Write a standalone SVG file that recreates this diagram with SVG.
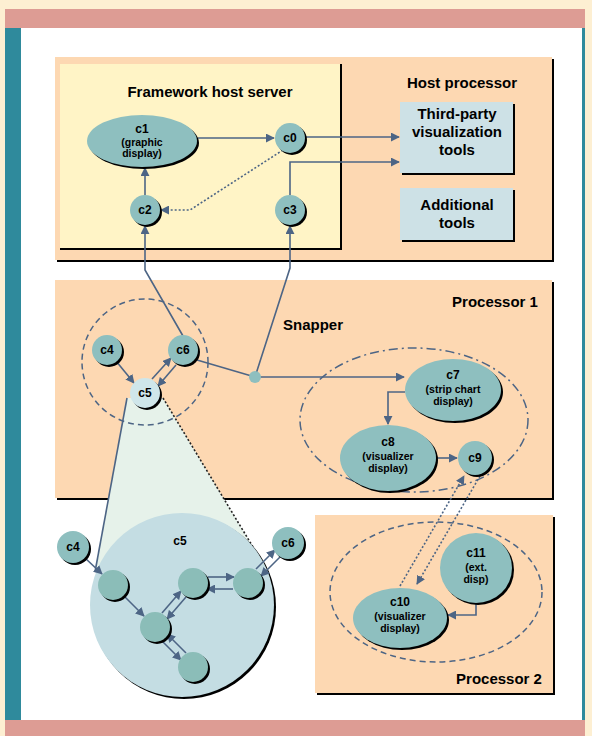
<svg xmlns="http://www.w3.org/2000/svg" width="592" height="736" viewBox="0 0 592 736">
<style>
.t{font-family:"Liberation Sans",Arial,sans-serif;font-weight:bold;fill:#000;text-anchor:middle}
.title{font-size:15px}
.nl{font-size:12px}
.il{font-size:10.5px}
.sh{fill:#000}
.node{fill:#8ebfbf}
.box{fill:#cde1e6}
.c{fill:none;stroke:#4d6585;stroke-width:1.6}
.dot{stroke-dasharray:2 2}
.dash{fill:none;stroke:#4d6585;stroke-width:1.5;stroke-dasharray:6 4}
.dashdot{fill:none;stroke:#4d6585;stroke-width:1.5;stroke-dasharray:9 4 2 4}
</style>
<defs>
<marker id="ah" viewBox="0 0 10 10" refX="9" refY="5" markerWidth="9" markerHeight="9" markerUnits="userSpaceOnUse" orient="auto">
<path d="M0,0 L10,5 L0,10 z" fill="#4d6585"/>
</marker>
</defs>
<!-- background frame -->
<rect x="0" y="0" width="592" height="736" fill="#fdefd2"/>
<rect x="5" y="9" width="580" height="727" fill="#2f8a9c"/>
<rect x="5" y="9" width="580" height="19" fill="#dd9c94"/>
<rect x="21" y="28" width="561" height="692" fill="#ffffff"/>
<rect x="5" y="720" width="580" height="16" fill="#dd9c94"/>

<!-- containers -->
<g id="host-processor">
<rect x="57" y="59" width="497" height="203" fill="#000"/>
<rect x="55" y="57" width="497" height="203" fill="#fdd8b2"/>
<text class="t title" x="462" y="88">Host processor</text>
</g>
<g id="framework-host-server">
<rect x="60" y="64" width="282" height="186" fill="#000"/>
<rect x="60" y="64" width="280" height="184" fill="#fff4c6"/>
<text class="t title" x="210" y="97">Framework host server</text>
</g>
<g id="processor1">
<rect x="57" y="282" width="497" height="218" fill="#000"/>
<rect x="55" y="280" width="497" height="218" fill="#fdd8b2"/>
<text class="t title" x="495" y="307">Processor 1</text>
<text class="t title" x="283" y="330" style="text-anchor:start">Snapper</text>
</g>
<g id="processor2">
<rect x="317" y="517" width="238" height="178" fill="#000"/>
<rect x="315" y="515" width="238" height="178" fill="#fdd8b2"/>
<text class="t title" x="499" y="684">Processor 2</text>
</g>

<!-- tool boxes -->
<g id="third-party">
<rect x="402" y="104" width="113" height="71" class="sh"/>
<rect x="400" y="102" width="113" height="71" class="box"/>
<text class="t title" x="457" y="119">Third-party</text>
<text class="t title" x="457" y="137">visualization</text>
<text class="t title" x="457" y="155">tools</text>
</g>
<g id="additional-tools">
<rect x="402" y="190" width="113" height="52" class="sh"/>
<rect x="400" y="188" width="113" height="52" class="box"/>
<text class="t title" x="457" y="210">Additional</text>
<text class="t title" x="457" y="228">tools</text>
</g>

<!-- cone and expanded blob -->
<g id="c5-expanded">
<path d="M127,398 L163,398 L253,547 L95,572 Z" fill="#e6f2ea"/>
<path d="M127,398 L95,572" class="c"/>
<path d="M163,398 L253,547" class="c dot" style="stroke:#222"/>
<circle cx="184" cy="607" r="92" fill="#000"/>
<circle cx="182" cy="605" r="92" fill="#c4dde3"/>
<text class="t nl" x="180" y="545">c5</text>
</g>

<!-- dashed groupings -->
<circle id="snapper-group" cx="145" cy="362" r="63" class="dash"/>
<ellipse id="proc1-group" cx="414" cy="420" rx="114" ry="72" class="dashdot"/>
<ellipse id="proc2-group" cx="436" cy="592" rx="106" ry="70" class="dash"/>

<!-- connectors -->
<g id="connectors">
<path class="c" d="M198,138 L274,138" marker-end="url(#ah)"/>
<path class="c" d="M305,137 L399,137" marker-end="url(#ah)"/>
<path class="c" d="M290,195 L290,162 L399,162" marker-end="url(#ah)"/>
<path class="c dot" d="M283,150 L190,210 L161,210" marker-end="url(#ah)"/>
<path class="c" d="M145,195 L145,168" marker-end="url(#ah)"/>
<path class="c" d="M183,336 L145,270 L145,226" marker-end="url(#ah)"/>
<path class="c" d="M255,377 L290,268 L290,226" marker-end="url(#ah)"/>
<path class="c" d="M197,360 L255,377"/>
<path class="c" d="M255,377 L404,377" marker-end="url(#ah)"/>
<circle cx="255" cy="377" r="6" fill="#8ebfbf"/>
<path class="c" d="M405,392 L388,392 L388,424" marker-end="url(#ah)"/>
<path class="c" d="M437,458 L457,458" marker-end="url(#ah)"/>
<path class="c dot" d="M400,586 L464,476" marker-end="url(#ah)"/>
<path class="c dot" d="M480,476 L417,584" marker-end="url(#ah)"/>
<path class="c" d="M476,604 L476,615 L448,615" marker-end="url(#ah)"/>
<!-- snapper -->
<path class="c" d="M116,361 L134,383" marker-end="url(#ah)"/>
<path class="c" d="M152,379 L171,358" marker-end="url(#ah)"/>
<path class="c" d="M176,365 L158,386" marker-end="url(#ah)"/>
<!-- expanded c5 -->
<path class="c" d="M84,557 L102,574" marker-end="url(#ah)"/>
<path class="c" d="M124,596 L144,616" marker-end="url(#ah)"/>
<path class="c" d="M162,613 L181,591" marker-end="url(#ah)"/>
<path class="c" d="M186,597 L167,619" marker-end="url(#ah)"/>
<path class="c" d="M208,577 L234,577" marker-end="url(#ah)"/>
<path class="c" d="M233,589 L207,589" marker-end="url(#ah)"/>
<path class="c" d="M256,569 L275,550" marker-end="url(#ah)"/>
<path class="c" d="M280,557 L261,576" marker-end="url(#ah)"/>
<path class="c" d="M162,641 L181,660" marker-end="url(#ah)"/>
<path class="c" d="M186,653 L167,634" marker-end="url(#ah)"/>
</g>

<!-- nodes -->
<g id="c1">
<ellipse cx="144" cy="143" rx="55" ry="26" class="sh"/>
<ellipse cx="142" cy="141" rx="55" ry="26" class="node"/>
<text class="t nl" x="142" y="133">c1</text>
<text class="t il" x="142" y="146">(graphic</text>
<text class="t il" x="142" y="157">display)</text>
</g>
<g id="c0">
<circle cx="292" cy="140" r="15" class="sh"/>
<circle cx="290" cy="138" r="15" class="node"/>
<text class="t nl" x="290" y="142">c0</text>
</g>
<g id="c2">
<circle cx="147" cy="212" r="15" class="sh"/>
<circle cx="145" cy="210" r="15" class="node"/>
<text class="t nl" x="145" y="214">c2</text>
</g>
<g id="c3">
<circle cx="292" cy="212" r="15" class="sh"/>
<circle cx="290" cy="210" r="15" class="node"/>
<text class="t nl" x="290" y="214">c3</text>
</g>
<g id="c4">
<circle cx="109" cy="352" r="15" class="sh"/>
<circle cx="107" cy="350" r="15" class="node"/>
<text class="t nl" x="107" y="354">c4</text>
</g>
<g id="c6">
<circle cx="185" cy="352" r="15" class="sh"/>
<circle cx="183" cy="350" r="15" class="node"/>
<text class="t nl" x="183" y="354">c6</text>
</g>
<g id="c5">
<circle cx="147" cy="395" r="15" class="sh"/>
<circle cx="145" cy="393" r="15" fill="#cfe6ea"/>
<text class="t nl" x="145" y="397">c5</text>
</g>
<g id="c7">
<ellipse cx="455" cy="392" rx="48" ry="31" class="sh"/>
<ellipse cx="453" cy="390" rx="48" ry="31" class="node"/>
<text class="t nl" x="453" y="379">c7</text>
<text class="t il" x="453" y="393">(strip chart</text>
<text class="t il" x="453" y="405">display)</text>
</g>
<g id="c8">
<ellipse cx="390" cy="460" rx="48" ry="33" class="sh"/>
<ellipse cx="388" cy="458" rx="48" ry="33" class="node"/>
<text class="t nl" x="388" y="446">c8</text>
<text class="t il" x="388" y="460">(visualizer</text>
<text class="t il" x="388" y="472">display)</text>
</g>
<g id="c9">
<circle cx="477" cy="460" r="17" class="sh"/>
<circle cx="475" cy="458" r="17" class="node"/>
<text class="t nl" x="475" y="462">c9</text>
</g>
<g id="c10">
<ellipse cx="402" cy="620" rx="47" ry="30" class="sh"/>
<ellipse cx="400" cy="618" rx="47" ry="30" class="node"/>
<text class="t nl" x="400" y="606">c10</text>
<text class="t il" x="400" y="620">(visualizer</text>
<text class="t il" x="400" y="632">display)</text>
</g>
<g id="c11">
<ellipse cx="478" cy="570" rx="36" ry="35" class="sh"/>
<ellipse cx="476" cy="568" rx="36" ry="35" class="node"/>
<text class="t nl" x="476" y="557">c11</text>
<text class="t il" x="476" y="571">(ext.</text>
<text class="t il" x="476" y="583">disp)</text>
</g>
<!-- nodes of expanded c5 -->
<g id="c4-in">
<circle cx="75" cy="549" r="16" class="sh"/>
<circle cx="73" cy="547" r="16" class="node"/>
<text class="t nl" x="73" y="551">c4</text>
</g>
<g id="c6-in">
<circle cx="290" cy="545" r="16" class="sh"/>
<circle cx="288" cy="543" r="16" class="node"/>
<text class="t nl" x="288" y="547">c6</text>
</g>
<g id="n1">
<circle cx="115" cy="587" r="15" class="sh"/>
<circle cx="113" cy="585" r="15" fill="#8bbdb8"/>
</g>
<g id="n2">
<circle cx="195" cy="585" r="15" class="sh"/>
<circle cx="193" cy="583" r="15" fill="#8bbdb8"/>
</g>
<g id="n3">
<circle cx="250" cy="585" r="15" class="sh"/>
<circle cx="248" cy="583" r="15" fill="#8bbdb8"/>
</g>
<g id="n4">
<circle cx="157" cy="629" r="15" class="sh"/>
<circle cx="155" cy="627" r="15" fill="#8bbdb8"/>
</g>
<g id="n5">
<circle cx="195" cy="669" r="15" class="sh"/>
<circle cx="193" cy="667" r="15" fill="#8bbdb8"/>
</g>
</svg>
